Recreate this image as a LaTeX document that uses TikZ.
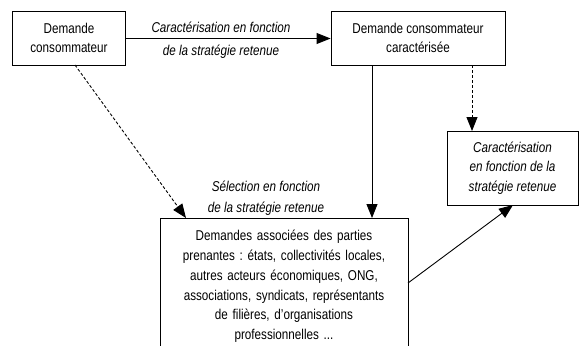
\documentclass[tikz,border=0pt]{standalone}
\usepackage{fontspec}
\setmainfont{Liberation Sans}[FakeStretch=0.82]
\usetikzlibrary{arrows.meta}
\frenchspacing
\begin{document}
\begin{tikzpicture}[x=1bp,y=-1bp,
  font=\fontsize{14.3}{19.8}\selectfont,
  box/.style={draw,line width=0.9bp,align=center,inner sep=0pt},
  lbl/.style={font=\fontsize{14.3}{19.8}\selectfont\itshape,align=center,inner sep=0pt},
  link/.style={line width=0.9bp,-{Triangle[length=14bp,width=11bp]}},
  dlink/.style={link,dash pattern=on 3bp off 2bp}]
\useasboundingbox (0,0) rectangle (579,345);

\node[box,minimum width=113bp,minimum height=54bp] (cons) at (69,38)
  {Demande\\consommateur};
\node[box,minimum width=174bp,minimum height=54bp] (carac) at (418,38)
  {Demande consommateur\\caractérisée};
\node[box,minimum width=131bp,minimum height=74bp,font=\fontsize{14.3}{19.8}\selectfont\itshape] (strat) at (512.5,168)
  {Caractérisation\\en fonction de la\\stratégie retenue};
\node[box,anchor=north,minimum width=248bp,text width=240bp,inner ysep=12bp] (parties) at (284,218)
  {Demandes associées des parties\\
   prenantes : états, collectivités locales,\\
   autres acteurs économiques, ONG,\\
   associations, syndicats, représentants\\
   de filières, d’organisations\\
   professionnelles ...\\ \strut};

% connectors
\draw[link] (cons.east |- 0,38.5) -- (carac.west |- 0,38.5);
\node[lbl,anchor=base] (l1) at (221,32.5) {Caractérisation en fonction};
\node[lbl,anchor=base] (l2) at (221,55) {de la stratégie retenue};

\coordinate (c1) at (75,65);
\draw[dlink] (c1) -- (186,218);

\draw[link] (372,65) -- (372,218);
\draw[dlink] (472,65) -- (472,131);
\draw[link] (408,283) -- (513,205);

\node[lbl,anchor=base] (s1) at (266,191) {Sélection en fonction};
\node[lbl,anchor=base] (s2) at (266,212) {de la stratégie retenue};
\end{tikzpicture}
\end{document}
